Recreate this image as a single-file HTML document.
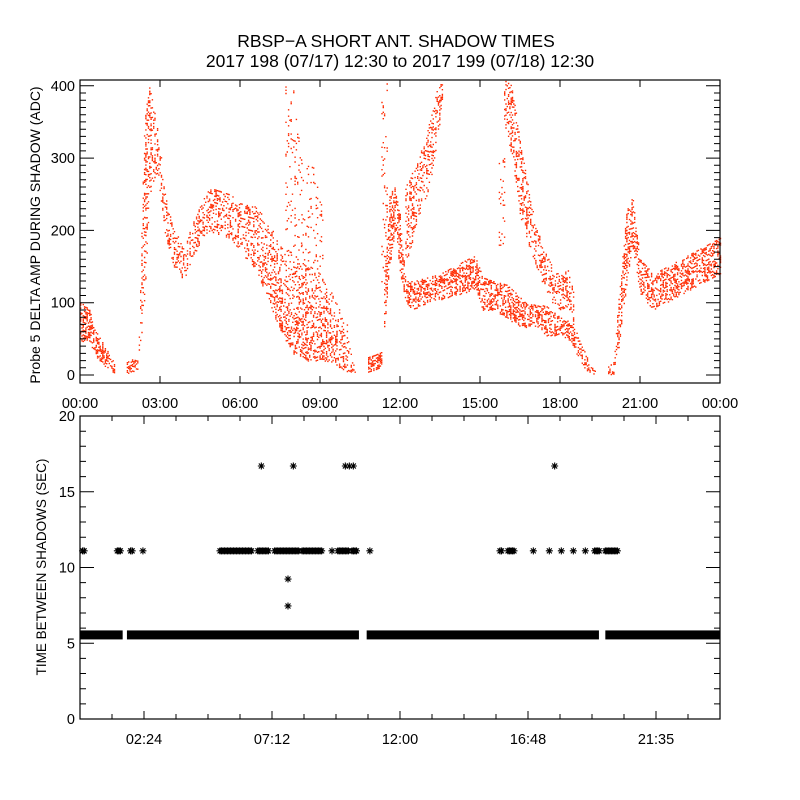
<!DOCTYPE html>
<html><head><meta charset="utf-8">
<style>
html,body{margin:0;padding:0;background:#fff;}
svg{display:block;font-family:"Liberation Sans",sans-serif;}
</style></head>
<body>
<svg id="chart" width="800" height="800" viewBox="0 0 800 800">
<rect width="800" height="800" fill="#fff"/>
<text x="396" y="47" font-size="17.5" text-anchor="middle">RBSP−A SHORT ANT. SHADOW TIMES</text>
<text x="400" y="67" font-size="17.5" text-anchor="middle">2017 198 (07/17) 12:30 to 2017 199 (07/18) 12:30</text>
<g id="topg"></g>
<g id="botg"></g>
<text transform="translate(40,235) rotate(-90)" font-size="14" text-anchor="middle">Probe 5 DELTA AMP DURING SHADOW (ADC)</text>
<text transform="translate(46,567) rotate(-90)" font-size="13.5" text-anchor="middle">TIME BETWEEN SHADOWS (SEC)</text>
</svg>
<script>
// ---- top panel data: envelopes (hour, low, high) ----
const bandMainT  = [0,0.3,0.6,1.0,1.35];
const bandMainLo = [45,50,25,10,0];
const bandMainHi = [100,95,60,35,12];
const bandB1T  = [1.75,1.95,2.15];
const bandB1Lo = [3,4,5];
const bandB1Hi = [18,22,20];
const bandRiseT  = [2.2,2.4,2.6,2.9,3.2,3.5,3.9,4.3,4.8,5.2,5.6,6.0,6.5,7.0,7.5,8.0,8.5,9.0,9.5,10.0,10.3];
const bandRiseLo = [20,100,250,280,190,150,130,170,200,195,190,170,150,110,60,30,20,20,15,5,0];
const bandRiseHi = [60,350,405,340,250,200,180,220,260,255,250,240,235,215,185,165,150,135,110,70,10];
const bandC1T  = [10.8,11.05,11.3];
const bandC1Lo = [5,8,10];
const bandC1Hi = [25,28,32];
const bandMidT  = [11.4,11.6,11.8,12.0,12.2,12.5,13.0,13.5,14.0,14.5,14.8,15.1,15.5,16.0,16.3,16.7,17.0,17.5,18.0,18.3,18.6,19.0,19.3];
const bandMidLo = [60,150,200,140,100,90,100,105,110,115,120,90,90,80,70,65,70,55,55,50,30,5,0];
const bandMidHi = [130,250,260,220,130,130,135,140,150,160,165,135,130,125,115,100,100,95,80,75,60,25,6];
const bandEndT  = [19.8,20.0,20.2,20.5,20.7,21.0,21.5,22.0,22.5,23.0,23.5,24.0];
const bandEndLo = [0,2,40,130,180,110,90,100,110,120,130,140];
const bandEndHi = [12,18,110,230,250,160,140,150,160,170,180,190];
const bandUpT  = [12.2,12.7,13.1,13.4,13.6];
const bandUpLo = [150,220,260,330,380];
const bandUpHi = [260,300,350,400,408];
const bandDescT  = [15.9,16.2,16.5,16.9,17.3,17.7,18.0,18.3,18.5];
const bandDescLo = [350,300,220,170,130,100,90,95,60];
const bandDescHi = [408,400,320,240,180,150,140,145,120];
const sparseAT  = [7.7,8.0,8.3];
const sparseALo = [150,120,100];
const sparseAHi = [408,400,300];
const sparseBT  = [8.3,8.7,9.1];
const sparseBLo = [100,110,130];
const sparseBHi = [300,290,260];
const sparseCT  = [11.3,11.5];
const sparseCLo = [130,150];
const sparseCHi = [400,408];
const sparseDT  = [15.7,15.9];
const sparseDLo = [180,180];
const sparseDHi = [300,300];
const topXTicks = ["00:00","03:00","06:00","09:00","12:00","15:00","18:00","21:00","00:00"];
const topYTicks = [0,100,200,300,400];
// ---- bottom panel data ----
const baseSegStart = [0,1.76,10.75,19.7];
const baseSegEnd   = [1.6,10.46,19.46,24];
const baseValue = 5.55;
const elevenStart = [0.1,1.4,1.9,2.36,5.25,6.67,7.3,8.33,9.45,9.67,10.2,10.87,15.75,16.05,17.0,17.6,18.05,18.5,18.95,19.3,19.7];
const elevenEnd   = [0.2,1.55,2.0,2.36,6.45,7.1,8.25,9.07,9.45,10.1,10.4,10.87,15.85,16.3,17.0,17.6,18.05,18.5,18.95,19.5,20.15];
const elevenValue = 11.1;
const otherTimes  = [6.8,8.0,9.95,10.1,10.25,17.8,7.8,7.8];
const otherValues = [16.7,16.7,16.7,16.7,16.7,16.7,9.24,7.46];
const botXTickVals = [2.4,7.2,12.0,16.8,21.6];
const botXTicks = ["02:24","07:12","12:00","16:48","21:35"];
const botYTicks = [0,5,10,15,20];

const NS="http://www.w3.org/2000/svg";
const X0=80,X1=720;
const xS=h=>X0+(X1-X0)*h/24;
const tY0=80,tY1=383,tMin=-11,tMax=408;
const tyS=v=>tY1-(v-tMin)/(tMax-tMin)*(tY1-tY0);
const bY0=416,bY1=719,bMin=0,bMax=20;
const byS=v=>bY1-(v-bMin)/(bMax-bMin)*(bY1-bY0);
function hsh(i,j){const s=Math.sin(i*12.9898+j*78.233)*43758.5453;return s-Math.floor(s);}
function mk(tag,attrs,parent){const e=document.createElementNS(NS,tag);for(const k in attrs)e.setAttribute(k,attrs[k]);parent.appendChild(e);return e;}
const topG=document.getElementById('topg'), botG=document.getElementById('botg');

function drawBand(T,L,H,dens,name,seed){
  let d="";
  const xa=xS(T[0]),xb=xS(T[T.length-1]);
  let ci=0;
  for(let x=xa;x<=xb;x+=1.3,ci++){
    const h=(x-X0)/(X1-X0)*24;
    let k=0;while(k<T.length-2&&h>T[k+1])k++;
    const f=T[k+1]===T[k]?0:Math.min(1,Math.max(0,(h-T[k])/(T[k+1]-T[k])));
    const lo=L[k]+(L[k+1]-L[k])*f, hi=H[k]+(H[k+1]-H[k])*f;
    const ya=tyS(hi), yb=tyS(lo);
    let ri=0;
    for(let y=ya;y<=yb;y+=1.6,ri++){
      let dd=dens;
      if(name==='amp-band-morning'&&h>6.8&&h<10.2){dd=dens*(0.55+0.9*(y-ya)/Math.max(1,yb-ya));}
      if(hsh(ci+seed*17,ri+seed*31)<dd){d+="M"+x.toFixed(1)+" "+y.toFixed(1)+"h1.4v1.4h-1.4z";}
    }
  }
  const p=mk('path',{d:d,fill:'#ff2a00'},topG);
  
  
}
drawBand(bandMainT,bandMainLo,bandMainHi,0.5,'amp-band-start',1);
drawBand(bandB1T,bandB1Lo,bandB1Hi,0.6,'amp-band-low-1',2);
drawBand(bandRiseT,bandRiseLo,bandRiseHi,0.26,'amp-band-morning',3);
drawBand(bandC1T,bandC1Lo,bandC1Hi,0.6,'amp-band-low-2',4);
drawBand(bandMidT,bandMidLo,bandMidHi,0.42,'amp-band-midday',5);
drawBand(bandEndT,bandEndLo,bandEndHi,0.38,'amp-band-evening',6);
drawBand(bandUpT,bandUpLo,bandUpHi,0.28,'amp-band-upper',7);
drawBand(bandDescT,bandDescLo,bandDescHi,0.3,'amp-band-descending',8);
drawBand(sparseAT,sparseALo,sparseAHi,0.07,'amp-sparse-a',9);
drawBand(sparseBT,sparseBLo,sparseBHi,0.07,'amp-sparse-b',10);
drawBand(sparseCT,sparseCLo,sparseCHi,0.12,'amp-sparse-c',11);
drawBand(sparseDT,sparseDLo,sparseDHi,0.1,'amp-sparse-d',12);

// top frame and axes
const tf=mk('rect',{x:X0,y:tY0,width:X1-X0,height:tY1-tY0,fill:'none',stroke:'#000','stroke-width':1.2},topG);


let tk="";
for(let v=0;v<=400;v+=10){const y=tyS(v).toFixed(1);const len=v%100===0?14:6;tk+=`M${X0} ${y}h${len}M${X1} ${y}h${-len}`;}
topXTicks.forEach((s,i)=>{const x=xS(i*3).toFixed(1);tk+=`M${x} ${tY1}v-7M${x} ${tY0}v7`;});
const tt=mk('path',{d:tk,stroke:'#000','stroke-width':1,fill:'none'},topG);


topXTicks.forEach((s,i)=>{const t=mk('text',{x:xS(i*3),y:408,'font-size':14.5,'text-anchor':'middle'},topG);t.textContent=s;

});
topYTicks.forEach(v=>{const t=mk('text',{x:75,y:tyS(v)+5,'font-size':14.5,'text-anchor':'end'},topG);t.textContent=String(v);

});

// bottom panel
function star(x,y){const r=3.5,q=2.5;return `M${x-r} ${y}h${2*r}M${x} ${y-r}v${2*r}M${x-q} ${y-q}l${2*q} ${2*q}M${x-q} ${y+q}l${2*q} ${-2*q}`;}
let sd="";
baseSegStart.forEach((s,i)=>{
  const xa=xS(s),xb=xS(baseSegEnd[i]),y=byS(baseValue);
  const r=mk('rect',{x:xa,y:y-4.5,width:xb-xa,height:9,fill:'#000'},botG);
  
  
});
elevenStart.forEach((s,i)=>{
  const xa=xS(s),xb=xS(elevenEnd[i]),y=byS(elevenValue);
  for(let x=xa;x<=xb+0.01;x+=1.5)sd+=star(x,y);
});
otherTimes.forEach((h,i)=>{sd+=star(xS(h),byS(otherValues[i]));});
const st=mk('path',{d:sd,stroke:'#000','stroke-width':1.1,fill:'none'},botG);



const bf=mk('rect',{x:X0,y:bY0,width:X1-X0,height:bY1-bY0,fill:'none',stroke:'#000','stroke-width':1.2},botG);


let bk="";
for(let v=0;v<=20;v+=1){const y=byS(v).toFixed(1);const len=v%5===0?14:6;bk+=`M${X0} ${y}h${len}M${X1} ${y}h${-len}`;}
for(let i=1;i<20;i++){const x=xS(i*1.2).toFixed(1);const len=(i%4===2)?8:5;bk+=`M${x} ${bY1}v${-len}M${x} ${bY0}v${len}`;}
const bt=mk('path',{d:bk,stroke:'#000','stroke-width':1,fill:'none'},botG);


botXTicks.forEach((s,i)=>{const t=mk('text',{x:xS(botXTickVals[i]),y:744,'font-size':14.5,'text-anchor':'middle'},botG);t.textContent=s;

});
botYTicks.forEach(v=>{const t=mk('text',{x:75,y:byS(v)+5,'font-size':14.5,'text-anchor':'end'},botG);t.textContent=String(v);

});
</script>
</body></html>
